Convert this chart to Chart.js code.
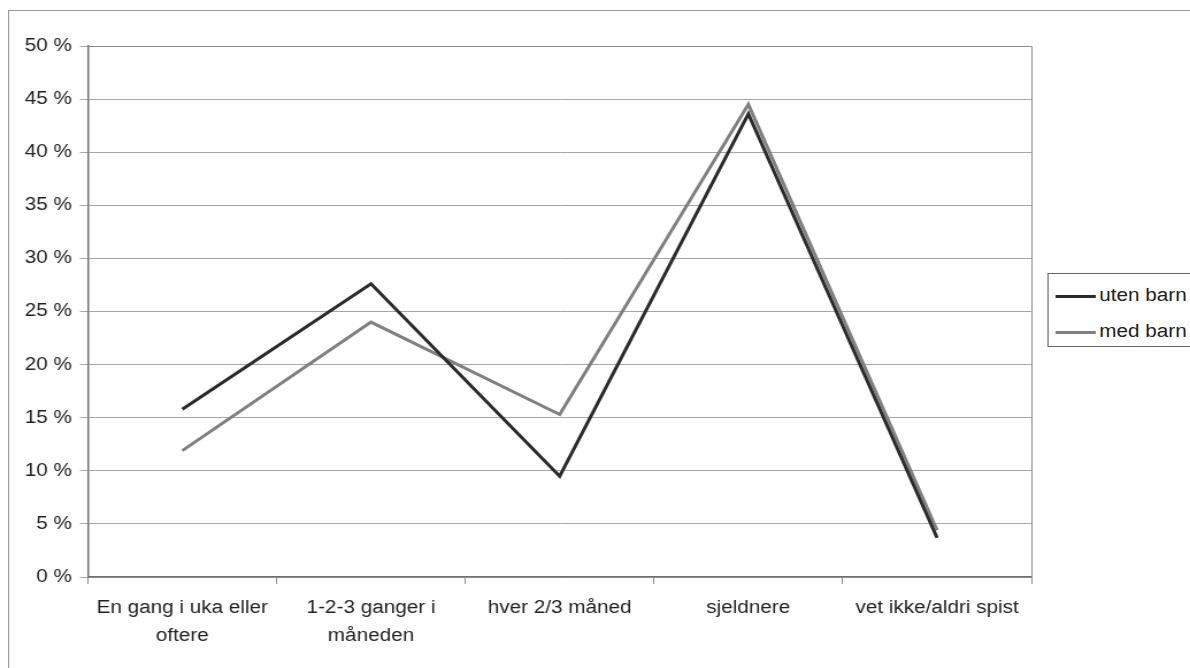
<!DOCTYPE html>
<html>
<head>
<meta charset="utf-8">
<script src="https://cdn.jsdelivr.net/npm/chart.js@4"></script>
<style>
  html, body { margin: 0; padding: 0; background: #fff; overflow: hidden; }
  body { width: 1190px; height: 668px; }
  /* the scanned chart is a little wider than tall, so stretch it sideways */
  #wrap { position: absolute; left: 0; top: 0; width: 1035px; height: 668px; transform: scaleX(1.1498); transform-origin: 0 0; }
  #frame { position: absolute; left: 7px; top: 10px; width: 1100px; height: 700px; border-left: 1px solid #9a9a9a; border-top: 1px solid #9a9a9a; }
  #chartBox { position: absolute; left: 0; top: 0; width: 1035px; height: 668px; }
  #legend { position: absolute; left: 911px; top: 273px; width: 140px; height: 72px; border: 1px solid #666; background: #fff;
            font-family: "Liberation Sans", Arial, sans-serif; font-size: 18px; color: #222; }
  #legend div { position: absolute; left: 0; height: 20px; line-height: 20px; white-space: nowrap; }
  #legend span { display: inline-block; width: 35px; height: 3px; margin: 0 3px 0 6px; vertical-align: middle; }
</style>
</head>
<body>
<div id="wrap">
  <div id="frame"></div>
  <div id="chartBox"><canvas id="lineChart"></canvas></div>
  <div id="legend"></div>
</div>
<script>
//VARIABLES

//Colors
var $dark = "#2b2b2b";
var $gray = "#808080";
var $grid = "#a6a6a6";
var $text = "#222222";

//Data
var categories = [["En gang i uka eller", "oftere"], ["1-2-3 ganger i", "måneden"], "hver 2/3 måned", "sjeldnere", "vet ikke/aldri spist"];
var seriesNames = ["uten barn", "med barn"];
var utenBarn = [15.8, 27.6, 9.5, 43.6, 3.7];
var medBarn = [11.9, 24.0, 15.3, 44.5, 4.4];
var yTicks = [0, 5, 10, 15, 20, 25, 30, 35, 40, 45, 50];

// Plot area border (right side and top)
var plotBorder = {
  id: "plotBorder",
  afterDraw: function (chart) {
    var a = chart.chartArea;
    var ctx = chart.ctx;
    ctx.save();
    ctx.strokeStyle = "#8c8c8c";
    ctx.lineWidth = 1;
    ctx.beginPath();
    ctx.moveTo(a.left, a.top + 0.5);
    ctx.lineTo(a.right + 0.5, a.top + 0.5);
    ctx.lineTo(a.right + 0.5, a.bottom);
    ctx.stroke();
    ctx.restore();
  }
};

function lineChart() {
  var data = {
    labels: categories,
    datasets: [
      {
        label: seriesNames[0],
        borderColor: $dark,
        backgroundColor: $dark,
        borderWidth: 3,
        pointRadius: 0,
        data: utenBarn
      },
      {
        label: seriesNames[1],
        borderColor: $gray,
        backgroundColor: $gray,
        borderWidth: 3,
        pointRadius: 0,
        data: medBarn
      }
    ]
  };

  var ctx = document.getElementById("lineChart").getContext("2d");
  var myLineChart = new Chart(ctx, {
    type: "line",
    data: data,
    plugins: [plotBorder],
    options: {
      responsive: true,
      maintainAspectRatio: false,
      animation: false,
      layout: { padding: { left: 0, top: 46, right: 138, bottom: 0 } },
      plugins: {
        legend: { display: false },
        tooltip: { enabled: false }
      },
      scales: {
        x: {
          offset: true,
          afterFit: function (scale) { scale.height = 91; },
          grid: { offset: true, drawOnChartArea: false, drawTicks: true, tickLength: 7, color: "#8c8c8c" },
          border: { color: "#707070", width: 1.5 },
          ticks: {
            color: $text,
            padding: 10,
            maxRotation: 0,
            autoSkip: false,
            font: { family: "'Liberation Sans', Arial, sans-serif", size: 18, lineHeight: 1.55 }
          }
        },
        y: {
          min: 0,
          max: 50,
          afterFit: function (scale) { scale.width = 76.5; },
          afterBuildTicks: function (scale) {
            scale.ticks = yTicks.map(function (v) { return { value: v }; });
          },
          grid: { color: $grid, lineWidth: 1, drawTicks: true, tickLength: 7 },
          border: { color: "#707070", width: 1.5 },
          ticks: {
            color: $text,
            padding: 7,
            font: { family: "'Liberation Sans', Arial, sans-serif", size: 18 },
            callback: function (v) { return v + " %"; }
          }
        }
      }
    }
  });
}

// Legend drawn next to the chart
function drawLegend() {
  var colors = [$dark, $gray];
  var tops = [11, 47];
  var box = document.getElementById("legend");
  for (var i = 0; i < seriesNames.length; i++) {
    var row = document.createElement("div");
    row.style.top = tops[i] + "px";
    row.innerHTML = '<span style="background:' + colors[i] + '"></span>' + seriesNames[i];
    box.appendChild(row);
  }
}

//Show Chart on load
lineChart();
drawLegend();
</script>
</body>
</html>
